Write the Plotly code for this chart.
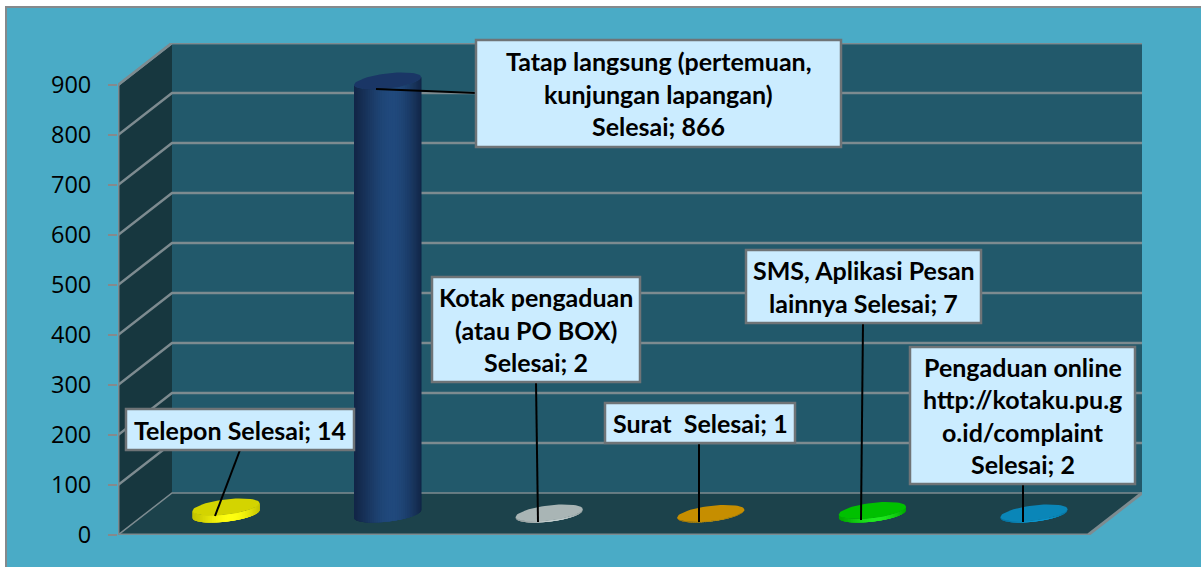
import math
import plotly.graph_objects as go

categories = ["Telepon", "Tatap langsung (pertemuan, kunjungan lapangan)", "Kotak pengaduan (atau PO BOX)",
              "Surat", "SMS, Aplikasi Pesan lainnya", "Pengaduan online http://kotaku.pu.go.id/complaint"]
series_name = "Selesai"
values = [14, 866, 2, 1, 7, 2]
y_ticks = [0, 100, 200, 300, 400, 500, 600, 700, 800, 900]
label_lines = [
    ["Telepon Selesai; 14"],
    ["Tatap langsung (pertemuan,", "kunjungan lapangan)", "Selesai; 866"],
    ["Kotak pengaduan", "(atau PO BOX)", "Selesai; 2"],
    ["Surat  Selesai; 1"],
    ["SMS, Aplikasi Pesan", "lainnya Selesai; 7"],
    ["Pengaduan online", "http://kotaku.pu.g", "o.id/complaint", "Selesai; 2"],
]
top_colors = ["#d4d400", "#1a3666", "#a9b5b5", "#c68e00", "#00c000", "#0a86b8"]
side_dark = ["#c4c400", "#132748", "#8d9999", "#a87800", "#00a800", "#086f9a"]
side_light = ["#ffff10", "#20497c", "#c4cfcf", "#e0a400", "#20e820", "#0c98d0"]

W, H = 1201, 567
L, R, T, B = 118, 1142, 43, 535
PX_PER_UNIT = 0.5
X0_PX, STEP_PX = 226.0, 161.6
DX, DY = 54, 42            # depth of the 3-D box in px

def xpx(p):
    return (p - X0_PX) / STEP_PX
def ypx(p):
    return (B - p) / PX_PER_UNIT
def paper_x(p):
    return (p - L) / (R - L)
def paper_y(p):
    return (B - p) / (B - T)

fig = go.Figure()

def poly(xs, ys, color):
    fig.add_trace(go.Scatter(x=xs, y=ys, mode="lines", fill="toself", fillcolor=color,
                             line=dict(color=color, width=0),
                             hoverinfo="skip", showlegend=False))

def seg(xs, ys, color="#7d8b90", width=2.5):
    fig.add_trace(go.Scatter(x=xs, y=ys, mode="lines", line=dict(color=color, width=width),
                             hoverinfo="skip", showlegend=False))

xf0, xf1 = xpx(L), xpx(R - DX)
xb0, xb1 = xpx(L + DX), xpx(R)
lift = DY / PX_PER_UNIT
top = y_ticks[-1]

# walls
poly([xb0, xb1, xb1, xb0], [lift, lift, top + lift, top + lift], "#22596b")
poly([xf0, xb0, xb0, xf0], [0, lift, top + lift, top], "#17373f")
poly([xf0, xf1, xb1, xb0], [0, 0, lift, lift], "#1c424b")

# gridlines
for v in y_ticks:
    seg([xf0, xb0, xb1], [v, v + lift, v + lift], width=2.5 if v else 1.5)
seg([xf0, xf0], [0, top], width=3)
seg([xb1, xf1, xf0], [lift, 0, 0], width=3)

# cylinders
A_PX, B_PX, TILT = 33.8, 7.6, math.radians(7)
def ell(cx, cy, t):
    ex, ey = A_PX * math.cos(t), B_PX * math.sin(t)
    px = ex * math.cos(TILT) - ey * math.sin(TILT)
    py = ex * math.sin(TILT) + ey * math.cos(TILT)
    return xpx(cx + px), cy + py / PX_PER_UNIT

def mix(c1, c2, f):
    a = [int(c1[i:i + 2], 16) for i in (1, 3, 5)]
    b = [int(c2[i:i + 2], 16) for i in (1, 3, 5)]
    return "#%02x%02x%02x" % tuple(round(a[k] + (b[k] - a[k]) * f) for k in range(3))

BASE = (B - 514) / PX_PER_UNIT
N = 48
for i, v in enumerate(values):
    cx = X0_PX + i * STEP_PX
    for k in range(N):
        t0 = math.pi + math.pi * k / N
        t1 = math.pi + math.pi * (k + 4) / N if k < N - 4 else 2 * math.pi
        x0, y0 = ell(cx, BASE, t0)
        x1, y1 = ell(cx, BASE, t1)
        x2, y2 = ell(cx, BASE + v, t1)
        x3, y3 = ell(cx, BASE + v, t0)
        ux = (1 - math.cos(math.pi * (k + 0.5) / N)) / 2
        shade = math.sin(math.pi * ux ** 1.15) ** 1.1
        poly([x0, x1, x2, x3], [y0, y1, y2, y3], mix(side_dark[i], side_light[i], shade))
    pts = [ell(cx, BASE + v, 2 * math.pi * k / 60) for k in range(60)]
    poly([p[0] for p in pts], [p[1] for p in pts], top_colors[i])

# label boxes (left, top, right, bottom) and leader lines (from, to) in px
boxes = [(126, 409, 354, 450), (476, 40, 841, 147), (432, 277, 640, 382),
         (605, 403, 795, 443), (746, 250, 981, 323), (910, 347, 1135, 484)]
leaders = [((215, 516), (240, 450)), ((376, 89), (476, 93)), ((538, 522), (536, 382)),
           ((699, 522), (699, 443)), ((861, 520), (863, 323)), ((1023, 522), (1023, 485))]
LINE_H = 32.6

shapes = [dict(type="rect", xref="paper", yref="paper", layer="below",
               x0=paper_x(6), x1=paper_x(W + 10), y0=paper_y(H + 10), y1=paper_y(7),
               fillcolor="#4aabc6", line=dict(color="#85898c", width=2))]
annotations = []
for (p0, p1) in leaders:
    shapes.append(dict(type="line", xref="paper", yref="paper", x0=paper_x(p0[0]), y0=paper_y(p0[1]),
                       x1=paper_x(p1[0]), y1=paper_y(p1[1]), line=dict(color="#000000", width=2)))
for (l, t, r, b), lines in zip(boxes, label_lines):
    shapes.append(dict(type="rect", xref="paper", yref="paper", x0=paper_x(l), x1=paper_x(r),
                       y0=paper_y(b), y1=paper_y(t), fillcolor="#cbecff",
                       line=dict(color="#6f7477", width=2.5)))
    cy0 = (t + b) / 2 - (len(lines) - 1) * LINE_H / 2
    for n, txt in enumerate(lines):
        annotations.append(dict(xref="paper", yref="paper", x=paper_x((l + r) / 2), y=paper_y(cy0 + n * LINE_H),
                                text=f"<b>{txt}</b>", showarrow=False, xanchor="center", yanchor="middle",
                                font=dict(family="Lato", size=25, color="#000000")))

# top edge of the back wall and side wall
seg([xf0, xb0, xb1], [top, top + lift, top + lift], width=2.5)

fig.update_layout(
    width=W, height=H, margin=dict(l=L, r=W - R, t=T, b=H - B),
    paper_bgcolor="#ffffff", plot_bgcolor="rgba(0,0,0,0)", showlegend=False,
    shapes=shapes, annotations=annotations,
    xaxis=dict(range=[xpx(L), xpx(R)], visible=False, fixedrange=True),
    yaxis=dict(range=[ypx(B), ypx(T)], tickvals=y_ticks, showgrid=False, zeroline=False, showline=False,
               ticks="outside", ticklen=9, tickwidth=2, tickcolor="#85898c", ticklabelstandoff=12,
               tickfont=dict(family="Open Sans", size=23.5, color="#000000"), fixedrange=True),
)
fig.write_html("out.html", config={"displayModeBar": False},
               post_script="document.body.style.margin='0';document.body.style.overflow='hidden';")
